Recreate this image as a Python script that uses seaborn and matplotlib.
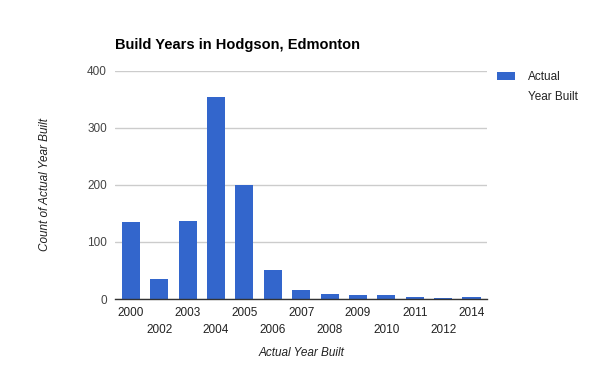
import matplotlib
matplotlib.use('Agg')
import matplotlib.pyplot as plt
import seaborn as sns
import pandas as pd

# Data
years = ['2000', '2002', '2003', '2004', '2005', '2006', '2007',
         '2008', '2009', '2010', '2011', '2012', '2014']
counts = [135, 35, 137, 355, 200, 51, 16, 9, 7, 7, 3, 2, 3]
yticks = [0, 100, 200, 300, 400]

df = pd.DataFrame({'year': years, 'count': counts})

sns.set_style('white')
plt.rcParams['font.family'] = ['Liberation Sans', 'DejaVu Sans']

fig = plt.figure(figsize=(6, 3.71), dpi=100)
ax = fig.add_axes([0.192, 0.194, 0.62, 0.615])

sns.barplot(data=df, x='year', y='count', color='#3366cc', saturation=1,
            width=0.64, linewidth=0, ax=ax, label='Actual\nYear Built')

ax.set_ylim(0, 400)
ax.set_yticks(yticks)
ax.set_yticklabels([str(t) for t in yticks], color='#444444', fontsize=8.5)
ax.yaxis.grid(True, color='#cccccc', linewidth=1)
ax.set_axisbelow(True)
ax.set_xlim(-0.55, len(years) - 0.45)

# staggered x labels like google charts
labels = [y if i % 2 == 0 else '\n' + y for i, y in enumerate(years)]
ax.set_xticks(range(len(years)))
ax.set_xticklabels(labels, color='#222222', fontsize=8.5, linespacing=1.55)
ax.tick_params(axis='both', length=0, pad=6)

for side in ['top', 'right', 'left']:
    ax.spines[side].set_visible(False)
ax.spines['bottom'].set_color('#333333')
ax.spines['bottom'].set_linewidth(1)

ax.set_xlabel('Actual Year Built', fontstyle='italic', fontsize=8.5,
              color='#222222', labelpad=8)
ax.set_ylabel('Count of Actual Year Built', fontstyle='italic', fontsize=8.5,
              color='#222222', labelpad=26)

fig.text(0.192, 0.878, 'Build Years in Hodgson, Edmonton', fontsize=10.5,
         fontweight='bold', color='black', va='center')

leg = ax.legend(loc='upper left', bbox_to_anchor=(1.0, 1.04), frameon=False,
                fontsize=8.5, handlelength=1.55, handleheight=0.7,
                handletextpad=1.1, borderaxespad=0.4)
for t in leg.get_texts():
    t.set_color('#222222')
    t.set_linespacing(1.85)
# move the swatch up so it lines up with the first text line
for h in leg.legend_handles:
    h.set_y(h.get_y() + 8)

fig.savefig('out.png', dpi=100)
